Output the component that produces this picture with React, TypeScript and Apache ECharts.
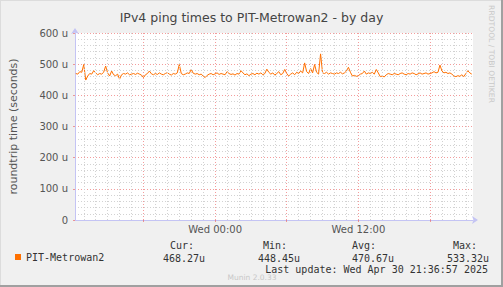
import React, { useEffect, useRef } from "react";
import * as echarts from "echarts";

// ---- data ----
const TITLE = "IPv4 ping times to PIT-Metrowan2 - by day";
const SERIES_NAME = "PIT-Metrowan2";
const Y_AXIS_NAME = "roundtrip time (seconds)";
// hours relative to Wed 00:00
const X_MIN = -(11 + 44 / 60); // Tue 12:16
const X_MAX = 21.6; // Wed 21:36
const START_H = -(11 + 40 / 60); // first sample Tue 12:20
const STEP_H = 1 / 6; // 10 minutes
const X_LABEL_VALUES = [0, 12];
const X_LABEL_TEXT = ["Wed 00:00", "Wed 12:00"];
const MINOR_HOURS = [-11, -10, -9, -8, -7, -5, -4, -3, -2, -1, 1, 2, 3, 4, 5, 7, 8, 9, 10, 11, 13, 14, 15, 16, 17, 19, 20, 21];
const MAJOR_HOURS = [-6, 0, 6, 12, 18];
const Y_MAX = 600;
const Y_STEP = 100;

// roundtrip in microseconds (u)
const values = [
  470, 468, 476, 474, 499, 449, 462, 470, 468, 479,
  472, 466, 470, 468, 474, 494, 472, 462, 478, 466,
  463, 468, 452, 466, 470, 468, 472, 466, 468, 470,
  467, 471, 468, 465, 457, 466, 470, 478, 469, 466,
  470, 467, 472, 468, 466, 470, 473, 468, 465, 470,
  468, 472, 499, 470, 466, 468, 472, 470, 483, 471,
  468, 470, 466, 468, 462, 457, 464, 468, 470, 466,
  469, 472, 467, 470, 468, 466, 476, 470, 467, 469,
  465, 470, 468, 479, 472, 466, 469, 463, 468, 470,
  466, 471, 468, 472, 466, 470, 484, 474, 468, 472,
  465, 470, 476, 466, 470, 483, 470, 462, 468, 472,
  466, 474, 470, 478, 472, 504, 476, 470, 486, 472,
  499, 474, 468, 533, 472, 470, 474, 468, 472, 470,
  468, 472, 470, 474, 469, 472, 478, 490, 474, 462,
  464, 461, 463, 468, 470, 478, 468, 472, 470, 474,
  468, 483, 472, 460, 462, 459, 466, 470, 468, 466,
  470, 468, 466, 470, 472, 468, 466, 470, 468, 472,
  470, 466, 469, 472, 468, 470, 472, 468, 470, 472,
  476, 472, 474, 497, 478, 472, 474, 470, 472, 468,
  462, 460, 463, 461, 466, 460, 470, 479, 472, 468,
];

const STAT_HEADERS = ["Cur:", "Min:", "Avg:", "Max:"];
const STAT_VALUES = ["468.27u", "448.45u", "470.67u", "533.32u"];
const LAST_UPDATE = "Last update: Wed Apr 30 21:36:57 2025";
const RRD_CREDIT = "RRDTOOL / TOBI OETIKER";
const MUNIN_VERSION = "Munin 2.0.33";

export default function App() {
  const ref = useRef<HTMLDivElement>(null);

  useEffect(() => {
    document.body.style.margin = "0";
    if (!ref.current) return;
    const chart = echarts.init(ref.current, undefined, { renderer: "svg" });

    const sans = "DejaVu Sans";
    const mono = "DejaVu Sans Mono";
    const minorColor = "#D2D2D2";
    const majorColor = "rgba(235,90,90,0.6)";
    const axisColor = "#C4C4F4";

    const headerX = [170, 263, 352, 453];
    const valueX = [163, 258, 352, 447];

    const gridLines = [
      ...MINOR_HOURS.map((h) => ({ xAxis: h, lineStyle: { color: minorColor, type: [1, 2], width: 1 } })),
      ...MAJOR_HOURS.map((h) => ({ xAxis: h, lineStyle: { color: majorColor, type: [1, 2], width: 1 } })),
    ];

    const option: any = {
      animation: false,
      backgroundColor: "#F0F0F0",
      title: {
        text: TITLE,
        left: "center",
        top: 6,
        textStyle: { fontFamily: sans, fontSize: 12.5, fontWeight: "normal", color: "#444" },
      },
      legend: {
        data: [SERIES_NAME],
        left: 15,
        top: 252,
        padding: 0,
        icon: "rect",
        itemWidth: 6,
        itemHeight: 6,
        textStyle: { fontFamily: mono, fontSize: 10, color: "#333" },
        selectedMode: false,
      },
      grid: {
        left: 72,
        right: 30,
        top: 33,
        bottom: 67,
        show: true,
        backgroundColor: "#FFFFFF",
        borderWidth: 0,
      },
      xAxis: {
        type: "value",
        min: X_MIN,
        max: X_MAX,
        axisLine: {
          show: true,
          onZero: false,
          lineStyle: { color: axisColor, width: 1 },
          symbol: ["none", "arrow"],
          symbolSize: [6, 6],
          symbolOffset: [0, 5],
        },
        axisTick: { show: true, customValues: MAJOR_HOURS, length: 2, lineStyle: { color: majorColor } },
        axisLabel: {
          customValues: X_LABEL_VALUES,
          formatter: (v: number) => X_LABEL_TEXT[X_LABEL_VALUES.indexOf(Math.round(v))] ?? "",
          fontFamily: sans,
          fontSize: 10,
          color: "#555",
          margin: 4,
        },
        splitLine: { show: false },
      },
      yAxis: {
        type: "value",
        min: 0,
        max: Y_MAX,
        interval: Y_STEP,
        name: Y_AXIS_NAME,
        nameLocation: "middle",
        nameGap: 56,
        nameRotate: 90,
        nameTextStyle: { fontFamily: sans, fontSize: 11, color: "#555" },
        axisLine: {
          show: true,
          onZero: false,
          lineStyle: { color: axisColor, width: 1 },
          symbol: ["none", "arrow"],
          symbolSize: [6, 6],
          symbolOffset: [0, 5],
        },
        axisTick: { show: true, length: 2, lineStyle: { color: majorColor } },
        axisLabel: {
          formatter: (v: number) => (v === 0 ? "0" : `${v} u`),
          fontFamily: sans,
          fontSize: 10,
          color: "#555",
          margin: 7,
        },
        splitLine: { show: true, lineStyle: { color: majorColor, type: [1, 2], width: 1 } },
        minorTick: { show: false, splitNumber: 5 },
        minorSplitLine: { show: true, lineStyle: { color: minorColor, type: [1, 2], width: 1 } },
      },
      series: [
        {
          name: "grid",
          type: "line",
          data: [],
          z: 1,
          silent: true,
          markLine: {
            silent: true,
            symbol: ["none", "none"],
            label: { show: false },
            emphasis: { disabled: true },
            data: gridLines,
          },
        },
        {
          name: SERIES_NAME,
          type: "line",
          z: 3,
          showSymbol: false,
          symbol: "none",
          itemStyle: { color: "#FF7000" },
          lineStyle: { color: "#FF7000", width: 1 },
          data: values.map((v, i) => [START_H + i * STEP_H, v]),
        },
      ],
      graphic: [
        // frame shading
        { type: "line", shape: { x1: 0.5, y1: 0, x2: 0.5, y2: 287 }, style: { stroke: "#DCDCDC", lineWidth: 1 } },
        { type: "line", shape: { x1: 0, y1: 0.5, x2: 503, y2: 0.5 }, style: { stroke: "#DCDCDC", lineWidth: 1 } },
        { type: "line", shape: { x1: 502, y1: 0, x2: 502, y2: 287 }, style: { stroke: "#A0A0A0", lineWidth: 2 } },
        { type: "line", shape: { x1: 0, y1: 286, x2: 503, y2: 286 }, style: { stroke: "#A0A0A0", lineWidth: 2 } },
        {
          type: "text",
          x: 491.5,
          y: 54,
          rotation: -Math.PI / 2,
          style: { text: RRD_CREDIT, fontFamily: sans, fontSize: 7.6, fill: "#C8C8C8", align: "center", verticalAlign: "middle" },
        },
        ...STAT_HEADERS.map((t, i) => ({
          type: "text",
          x: headerX[i],
          y: 245,
          style: { text: t, fontFamily: mono, fontSize: 10, fill: "#333", align: "left", verticalAlign: "middle" },
        })),
        ...STAT_VALUES.map((t, i) => ({
          type: "text",
          x: valueX[i],
          y: 258,
          style: { text: t, fontFamily: mono, fontSize: 10, fill: "#333", align: "left", verticalAlign: "middle" },
        })),
        {
          type: "text",
          x: 488,
          y: 269.5,
          style: { text: LAST_UPDATE, fontFamily: mono, fontSize: 10, fill: "#333", align: "right", verticalAlign: "middle" },
        },
        {
          type: "text",
          x: 252,
          y: 277,
          style: { text: MUNIN_VERSION, fontFamily: sans, fontSize: 7.5, fill: "#C8C8C8", align: "center", verticalAlign: "middle" },
        },
      ],
    };

    chart.setOption(option);
    return () => chart.dispose();
  }, []);

  return <div ref={ref} style={{ width: 503, height: 287 }} />;
}
